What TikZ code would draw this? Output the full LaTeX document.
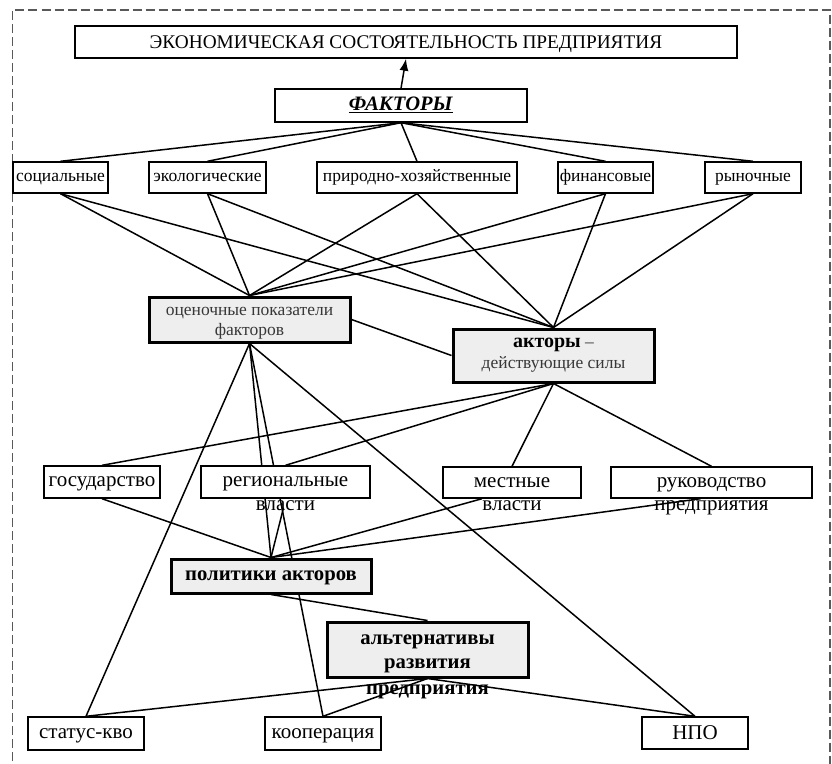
\documentclass[tikz,border=0pt]{standalone}
\usepackage{fontspec}
\setmainfont{Liberation Serif}
\usetikzlibrary{calc,arrows.meta,backgrounds}

\newcommand\fsz[2]{\fontsize{#1}{#2}\selectfont}
% centred multi-line text, moved down by #1 without changing its box
\newcommand\stacked[2][0pt]{\raisebox{-#1}[\height][\depth]{\begin{tabular}{@{}c@{}}#2\end{tabular}}}

\tikzset{
  box/.style={draw, line width=1.4pt, fill=white, inner sep=1pt, font=\fsz{21}{24},
              text height=9.7pt, text depth=0pt},
  factorbox/.style={box, minimum height=31, font=\fsz{17.5}{20}, text height=8pt},
  keybox/.style={draw, line width=3pt, fill=gray!13, inner sep=1pt},
  tail/.style={inner sep=0pt, anchor=base, font=\fsz{21}{24}},
  link/.style={line width=1.5pt},
  frameline/.style={dash pattern=on 9pt off 4pt, line width=1.2pt, black!65}
}

\begin{document}
\begin{tikzpicture}[x=1pt, y=-1pt]
\useasboundingbox (0,0) rectangle (832,763);

% dashed outer frame, open at the bottom
\draw[frameline] (12.5,800) |- (830,10) -- (830,800);

% goal and factors
\node[box, minimum width=662, minimum height=32, font=\fsz{19.3}{22}, text height=12.7pt]
  (top) at (406,42) {ЭКОНОМИЧЕСКАЯ СОСТОЯТЕЛЬНОСТЬ ПРЕДПРИЯТИЯ};
\node[box, minimum width=252, minimum height=33, font=\fsz{20.5}{23}, text height=10.6pt]
  (fak) at (401,105.5) {\underline{\textbf{\textit{ФАКТОРЫ}}}};

\node[factorbox, minimum width=95]  (soc) at (60.5,177.5) {социальные};
\node[factorbox, minimum width=117] (eco) at (207.5,177.5) {экологические};
\node[factorbox, minimum width=200] (pri) at (417,177.5) {природно-хозяйственные};
\node[factorbox, minimum width=95]  (fin) at (605.5,177.5) {финансовые};
\node[factorbox, minimum width=96]  (ryn) at (753,177.5) {рыночные};

% evaluation and actors
\node[keybox, minimum width=201, minimum height=45, font=\fsz{17.5}{20}, text=black!78]
  (ots) at (249.5,319.5) {\stacked[2pt]{оценочные показатели\\факторов}};
\node[keybox, minimum width=201, minimum height=53, font=\fsz{17.5}{21}, text=black!78]
  (akt) at (553.5,355.5)
  {\stacked[-1.5pt]{{\fsz{20}{21}\bfseries\color{black}акторы} –\\действующие силы}};

% actors
\node[box, minimum width=116, minimum height=32] (gos) at (102,482) {государство};
\node[box, minimum width=169, minimum height=32] (reg) at (285.5,482) {региональные};
\node[tail] (regb) at ($(reg.south)+(0,12)$) {власти};
\node[box, minimum width=138, minimum height=31] (mes) at (512,482.5) {местные};
\node[tail] (mesb) at ($(mes.south)+(0,12)$) {власти};
\node[box, minimum width=201, minimum height=31] (ruk) at (711.5,482.5) {руководство};
\node[tail] (rukb) at ($(ruk.south)+(0,12)$) {предприятия};

% policies and alternatives
\node[keybox, minimum width=200, minimum height=34, font=\fsz{20.7}{24}\bfseries,
      text height=9.5pt, text depth=0pt]
  (pol) at (271,576) {политики акторов};
\node[keybox, minimum width=201, minimum height=55, font=\fsz{20.7}{24}\bfseries]
  (alt) at (427.5,649.5) {\stacked[2.5pt]{альтернативы\\развития}};
\node[tail, font=\fsz{20.7}{24}\bfseries] (altb) at ($(alt.south)+(0,16)$) {предприятия};

% outcomes
\node[box, minimum width=116, minimum height=33] (sta) at (86,733.5) {статус-кво};
\node[box, minimum width=116, minimum height=33] (koo) at (323,733.5) {кооперация};
\node[box, minimum width=106, minimum height=32, text height=13.9pt] (npo) at (695,733) {НПО};

\begin{pgfonlayer}{background}
  % factors feed the goal
  \draw[link, -{Latex[length=12pt, width=9pt]}] (fak.north) -- (top.south);
  \foreach \f in {soc,eco,pri,fin,ryn} {
    \draw[link] (fak.south) -- (\f.north);
    \draw[link] (\f.south) -- (ots.north);
    \draw[link] (\f.south) -- (akt.north);
  }
  \draw[link] (ots.east) -- (akt.west);

  % actors
  \foreach \a in {gos,reg,mes,ruk}
    \draw[link] (akt.south) -- (\a.north);

  % evaluation links
  \draw[link] (ots.south) -- (sta.north);
  \draw[link] (ots.south) -- (pol.north);
  \draw[link] (ots.south) -- (koo.north);
  \draw[link] (ots.south) -- (npo.north);

  % policies
  \draw[link] (gos.south) -- (pol.north);
  \draw[link] ($(reg.south)+(-2,9)$) -- (pol.north);
  \draw[link] ($(mes.south)+(-30,0)$) -- (pol.north);
  \draw[link] ($(ruk.south)+(-11,0)$) -- (pol.north);
  \draw[link] (pol.south) -- (alt.north);

  % alternatives
  \foreach \o in {sta,koo,npo}
    \draw[link] (alt.south) -- (\o.north);
\end{pgfonlayer}
\end{tikzpicture}
\end{document}
